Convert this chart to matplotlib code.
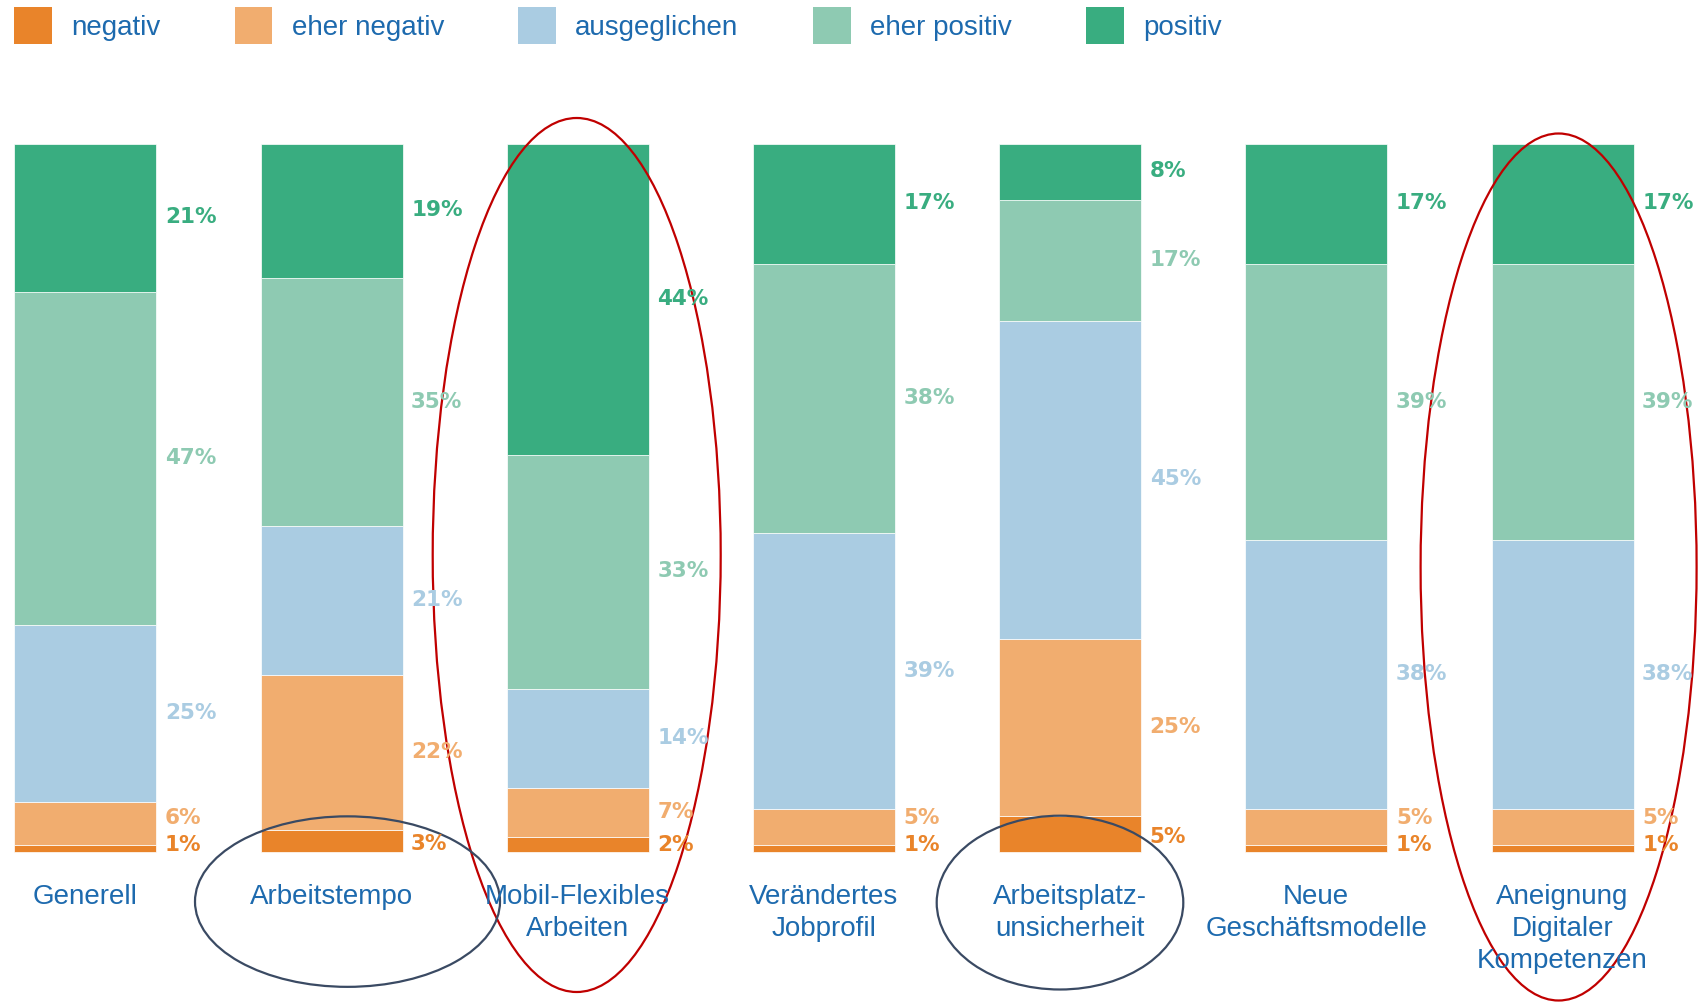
import matplotlib
matplotlib.use("Agg")
import matplotlib.pyplot as plt
from matplotlib.patches import Patch, Ellipse
import numpy as np

categories = ["Generell", "Arbeitstempo", "Mobil-Flexibles\nArbeiten", "Verändertes\nJobprofil",
              "Arbeitsplatz-\nunsicherheit", "Neue\nGeschäftsmodelle", "Aneignung\nDigitaler\nKompetenzen"]
series_names = ["negativ", "eher negativ", "ausgeglichen", "eher positiv", "positiv"]
negativ      = [1, 3, 2, 1, 5, 1, 1]
eher_negativ = [6, 22, 7, 5, 25, 5, 5]
ausgeglichen = [25, 21, 14, 39, 45, 38, 38]
eher_positiv = [47, 35, 33, 38, 17, 39, 39]
positiv      = [21, 19, 44, 17, 8, 17, 17]

colors = ["#E9842A", "#F1AD6F", "#AACCE2", "#8ECAB2", "#39AD80"]
text_blue = "#1D6AAE"

W, H = 1703, 1004
fig = plt.figure(figsize=(W / 100, H / 100), dpi=100)
ax = fig.add_axes([0, 0, 1, 1])

# pixel mapping: bar centres at 85.3 + 246.2*i, bar top 144.5 px, bottom 852.6 px
sp = 246.2
x0 = 85.3
ax.set_xlim(-x0 / sp, (W - x0) / sp)
ppu = (852.6 - 144.5) / 100.0
ax.set_ylim(-(H - 852.6) / ppu, 852.6 / ppu)
ax.axis("off")

data = [negativ, eher_negativ, ausgeglichen, eher_positiv, positiv]
x = np.arange(len(categories))
bw = 142 / sp
bottom = np.zeros(len(categories))
handles = []
for name, vals, c in zip(series_names, data, colors):
    ax.bar(x, vals, bw, bottom=bottom, color=c, edgecolor="white", linewidth=0.5)
    handles.append(Patch(facecolor=c, edgecolor="none", label=name))
    bottom += np.array(vals)

# value labels
for i in range(len(categories)):
    b = 0.0
    prev = None
    for k, (vals, c) in enumerate(zip(data, colors)):
        v = vals[i]
        centre = b + v / 2
        if k == 0:
            y = max(centre - 0.3, 1.1)
        else:
            y = centre + 0.2
            y = max(y, prev + 3.8)
        prev = y
        ax.text(i + bw / 2 + 0.035, y, f"{v}%", color=c, fontsize=15.5,
                fontweight="bold", family="DejaVu Sans", ha="left", va="center")
        b += v

# category labels
for i, cat in enumerate(categories):
    ax.text(i, -4.4, cat, color=text_blue, fontsize=20, family="Liberation Sans",
            ha="center", va="top", linespacing=1.3)

# legend
leg = fig.legend(handles=handles, loc="upper left", bbox_to_anchor=(14 / W, 1 - 7.6 / H),
                 bbox_transform=fig.transFigure, ncol=5, frameon=False, borderpad=0,
                 borderaxespad=0, handlelength=1.35, handleheight=1.7, handletextpad=0.7,
                 columnspacing=2.68, prop={"family": "Liberation Sans", "size": 20})
for t in leg.get_texts():
    t.set_color(text_blue)

# hand-drawn highlight ellipses (pixel based -> data units)
def px_ellipse(cx, cy, w, h, color):
    e = Ellipse(((cx - x0) / sp, (852.6 - cy) / ppu), w / sp, h / ppu,
                fill=False, edgecolor=color, linewidth=1.6, clip_on=False)
    ax.add_patch(e)

px_ellipse(576.7, 556, 288, 874, "#C00000")
px_ellipse(1558.6, 568, 276, 867, "#C00000")
px_ellipse(347.5, 902.6, 305, 170.5, "#3A4A63")
px_ellipse(1060, 903.6, 246.6, 173.8, "#3A4A63")

fig.savefig("out.png", dpi=100)
